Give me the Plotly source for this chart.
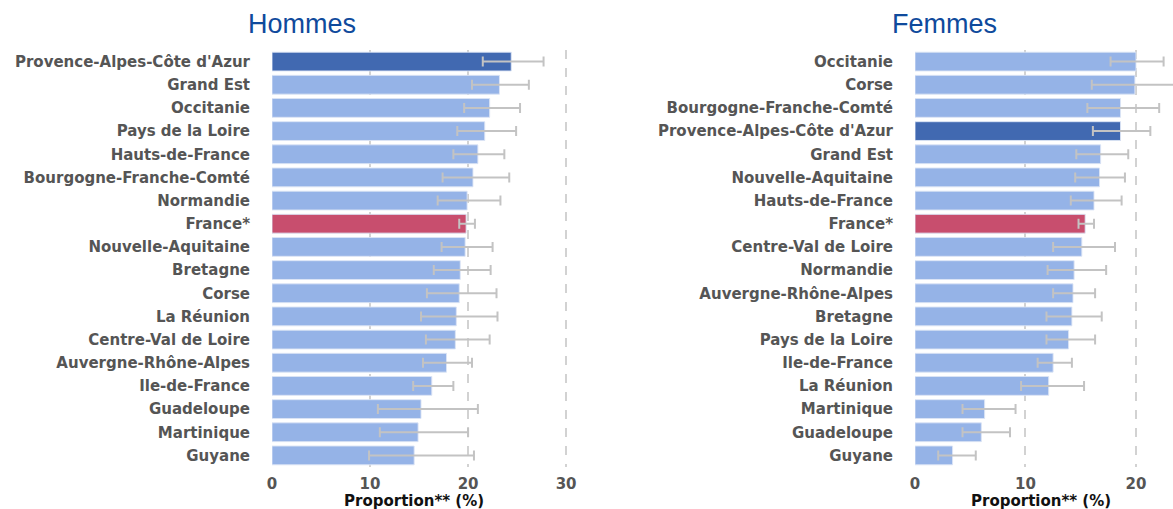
import plotly.graph_objects as go

# ---- Data: Hommes ----
h_regions = ["Provence-Alpes-Côte d'Azur", "Grand Est", "Occitanie", "Pays de la Loire",
             "Hauts-de-France", "Bourgogne-Franche-Comté", "Normandie", "France*",
             "Nouvelle-Aquitaine", "Bretagne", "Corse", "La Réunion", "Centre-Val de Loire",
             "Auvergne-Rhône-Alpes", "Ile-de-France", "Guadeloupe", "Martinique", "Guyane"]
h_values = [24.4, 23.2, 22.2, 21.7, 21.0, 20.5, 19.9, 19.8, 19.7, 19.2, 19.1, 18.8, 18.7,
            17.8, 16.3, 15.2, 14.9, 14.5]
h_low = [21.5, 20.4, 19.6, 18.9, 18.5, 17.4, 16.9, 19.1, 17.3, 16.5, 15.8, 15.2, 15.7,
         15.4, 14.4, 10.8, 11.0, 9.9]
h_high = [27.7, 26.2, 25.3, 24.9, 23.7, 24.2, 23.3, 20.7, 22.5, 22.3, 22.9, 23.0, 22.2,
          20.4, 18.5, 21.0, 20.0, 20.6]

# ---- Data: Femmes ----
f_regions = ["Occitanie", "Corse", "Bourgogne-Franche-Comté", "Provence-Alpes-Côte d'Azur",
             "Grand Est", "Nouvelle-Aquitaine", "Hauts-de-France", "France*",
             "Centre-Val de Loire", "Normandie", "Auvergne-Rhône-Alpes", "Bretagne",
             "Pays de la Loire", "Ile-de-France", "La Réunion", "Martinique", "Guadeloupe", "Guyane"]
f_values = [20.0, 19.9, 18.6, 18.6, 16.8, 16.7, 16.2, 15.4, 15.1, 14.4, 14.3, 14.2, 13.9,
            12.5, 12.1, 6.3, 6.0, 3.4]
f_low = [17.7, 16.0, 15.6, 16.1, 14.6, 14.5, 14.1, 14.8, 12.5, 12.0, 12.5, 11.9, 11.9,
         11.1, 9.6, 4.3, 4.3, 2.1]
f_high = [22.5, 24.5, 22.1, 21.3, 19.3, 19.0, 18.7, 16.2, 18.1, 17.3, 16.3, 16.9, 16.3,
          14.2, 15.3, 9.1, 8.6, 5.5]

x_ticks_h = [0, 10, 20, 30]
x_ticks_f = [0, 10, 20]
x_title = "Proportion** (%)"
titles = ["Hommes", "Femmes"]

LIGHT = "#95b3e7"
DARK = "#4169b1"
RED = "#c84e6e"

W, H = 1173, 509
T, B = 50, 42
PH = H - T - B


def colors(regs):
    out = []
    for r in regs:
        if r == "France*":
            out.append(RED)
        elif r == "Provence-Alpes-Côte d'Azur":
            out.append(DARK)
        else:
            out.append(LIGHT)
    return out


def bar(regs, vals, lo, hi, xa, ya):
    return go.Bar(
        y=regs, x=vals, orientation="h", xaxis=xa, yaxis=ya,
        marker=dict(color=colors(regs), line=dict(color="rgba(220,228,245,0.9)", width=1)),
        error_x=dict(type="data", symmetric=False,
                     array=[h - v for h, v in zip(hi, vals)],
                     arrayminus=[v - l for v, l in zip(vals, lo)],
                     color="#c3c3c3", thickness=2, width=5),
        showlegend=False, hoverinfo="x+y",
    )


fig = go.Figure()
fig.add_trace(bar(h_regions, h_values, h_low, h_high, "x", "y"))
fig.add_trace(bar(f_regions, f_values, f_low, f_high, "x2", "y2"))

tickfont = dict(family="DejaVu Sans", size=15, color="#555555", weight="bold")
axis_title_font = dict(family="DejaVu Sans", size=15, color="#111111", weight="bold")

common_x = dict(showgrid=True, gridcolor="#d2d2d2", griddash="dash", gridwidth=1.5,
                zeroline=False, showline=False, tickfont=tickfont,
                ticks="", ticklabelstandoff=6, automargin=False)
common_y = dict(autorange="reversed", showgrid=False, zeroline=False, showline=False,
                tickfont=tickfont, ticks="", ticklabelstandoff=21, automargin=False)

title_font = dict(family="Liberation Sans", size=27, color="#0f4a9c")
title_y = 1 + (T - 24) / PH
xt_y = -(501 - (H - B)) / PH

fig.update_layout(
    width=W, height=H,
    margin=dict(l=0, r=0, t=T, b=B),
    paper_bgcolor="white", plot_bgcolor="white",
    bargap=0.19,
    xaxis=dict(domain=[272 / W, 572 / W], range=[0, 30.6], tickvals=x_ticks_h, anchor="y", **common_x),
    yaxis=dict(domain=[0, 1], anchor="x", **common_y),
    xaxis2=dict(domain=[915 / W, 1.0], range=[0, 23.35], tickvals=x_ticks_f, anchor="y2", **common_x),
    yaxis2=dict(domain=[0, 1], anchor="x2", **common_y),
    annotations=[
        dict(text=titles[0], x=302 / W, y=title_y, xref="paper", yref="paper",
             showarrow=False, xanchor="center", yanchor="middle", font=title_font),
        dict(text=titles[1], x=944 / W, y=title_y, xref="paper", yref="paper",
             showarrow=False, xanchor="center", yanchor="middle", font=title_font),
        dict(text=x_title, x=414 / W, y=xt_y, xref="paper", yref="paper",
             showarrow=False, xanchor="center", yanchor="middle", font=axis_title_font),
        dict(text=x_title, x=1041 / W, y=xt_y, xref="paper", yref="paper",
             showarrow=False, xanchor="center", yanchor="middle", font=axis_title_font),
    ],
)

fig.write_html("out.html", post_script="document.body.style.margin='0';",
               config={"displayModeBar": False})
